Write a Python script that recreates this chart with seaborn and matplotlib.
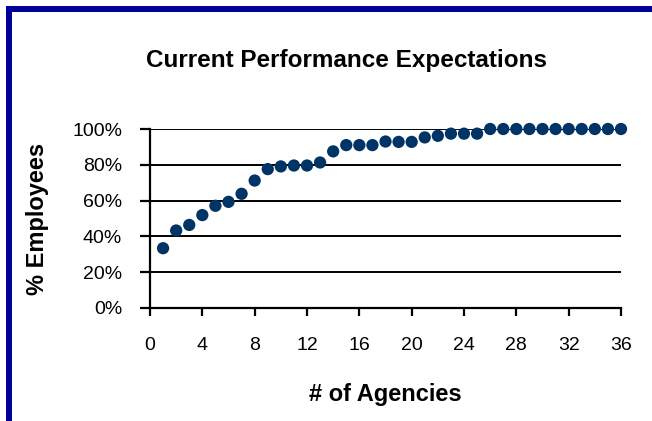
import numpy as np
import pandas as pd
import seaborn as sns
import matplotlib.pyplot as plt
from matplotlib.ticker import PercentFormatter
from matplotlib.lines import Line2D

agencies = list(range(1, 37))
pct_employees = [33.4, 43.3, 46.4, 51.9, 57.1, 59.3, 63.8, 71.2, 77.6, 79.1,
                 79.6, 79.6, 81.3, 87.5, 91.0, 91.0, 91.0, 93.0, 92.8, 92.8,
                 95.3, 96.2, 97.4, 97.4, 97.4, 100, 100, 100, 100, 100,
                 100, 100, 100, 100, 100, 100]
x_ticks = list(range(0, 37, 4))
y_ticks = [0, 20, 40, 60, 80, 100]

df = pd.DataFrame({"agencies": agencies, "pct": pct_employees})

sns.set_style("white", {"xtick.bottom": True, "ytick.left": True})
plt.rcParams['font.family'] = ['Liberation Sans', 'DejaVu Sans']
plt.rcParams.update({"text.color": "black", "axes.labelcolor": "black",
                     "xtick.color": "black", "ytick.color": "black",
                     "xtick.bottom": True, "ytick.left": True,
                     "xtick.major.size": 6, "ytick.major.size": 7,
                     "xtick.major.width": 1.6, "ytick.major.width": 1.6})

fig = plt.figure(figsize=(6.52, 4.21), dpi=100)
ax = fig.add_axes([150/652, 1 - 308/421, 471/652, 179/421])

sns.scatterplot(data=df, x="agencies", y="pct", ax=ax, color="#003366",
                s=78, edgecolor="none", zorder=3, clip_on=False)

ax.set_xlim(0, 36)
ax.set_ylim(0, 100)
ax.set_xticks(x_ticks)
ax.set_yticks(y_ticks)
ax.yaxis.set_major_formatter(PercentFormatter(decimals=0))
ax.grid(axis="y", color="black", linewidth=1.4)
ax.set_axisbelow(True)
for side in ["top", "right"]:
    ax.spines[side].set_visible(False)
for side in ["left", "bottom"]:
    ax.spines[side].set_color("black")
    ax.spines[side].set_linewidth(1.6)
ax.tick_params(axis="both", direction="out", labelsize=14)
ax.tick_params(axis="y", pad=13)
ax.tick_params(axis="x", pad=15)
ax.set_xlabel("# of Agencies", fontsize=17, fontweight="bold", labelpad=21)
ax.set_ylabel("% Employees", fontsize=17, fontweight="bold", labelpad=17)

fig.text(347/652, 1 - 67/421, "Current Performance Expectations",
         ha="center", va="baseline", fontsize=17.5, fontweight="bold")

# blue frame on top and left
fig.add_artist(Line2D([9/652, 9/652], [0, 1 - 6/421], color="#000099",
                      linewidth=4.3, transform=fig.transFigure, solid_capstyle="butt"))
fig.add_artist(Line2D([6/652, 1], [1 - 9/421, 1 - 9/421], color="#000099",
                      linewidth=4.3, transform=fig.transFigure, solid_capstyle="butt"))

fig.savefig("out.png", dpi=100)
